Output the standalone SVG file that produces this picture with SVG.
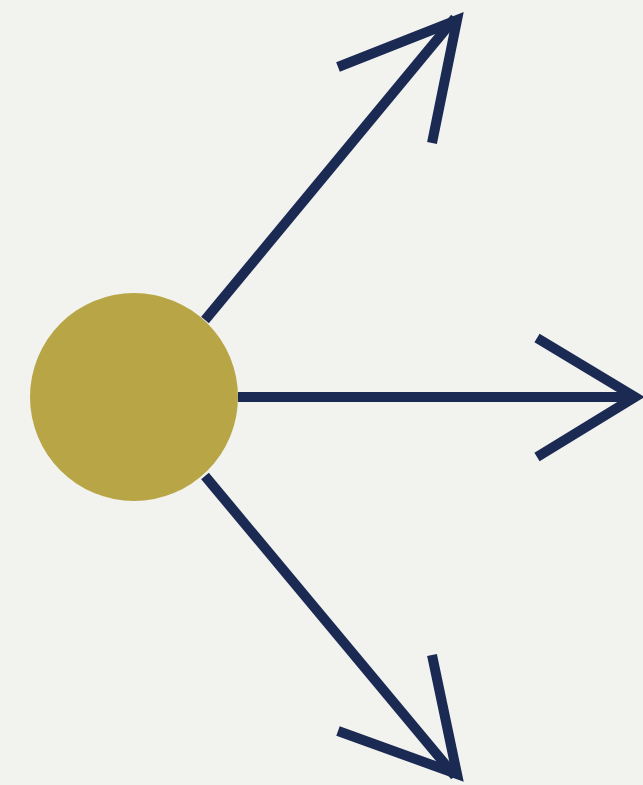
<svg xmlns="http://www.w3.org/2000/svg" width="643" height="785" viewBox="0 0 643 785">
<style>
.ln{fill:none;stroke:#1b2a52;stroke-width:10;stroke-linecap:butt;stroke-linejoin:miter;stroke-miterlimit:10}
</style>
<rect width="643" height="785" fill="#f2f2ee"/>
<g id="connectors">
<line class="ln" x1="205" y1="320" x2="455" y2="18"/>
<polyline class="ln" points="338,67 457,20 432,143"/>
<line class="ln" x1="238" y1="397" x2="634" y2="397"/>
<polyline class="ln" points="537,338 635,397 537,457"/>
<line class="ln" x1="205" y1="476" x2="455" y2="776"/>
<polyline class="ln" points="338,731 457,774 432,655"/>
</g>
<g id="node-center">
<circle cx="134" cy="397" r="104" fill="#b8a546"/>
</g>
</svg>
